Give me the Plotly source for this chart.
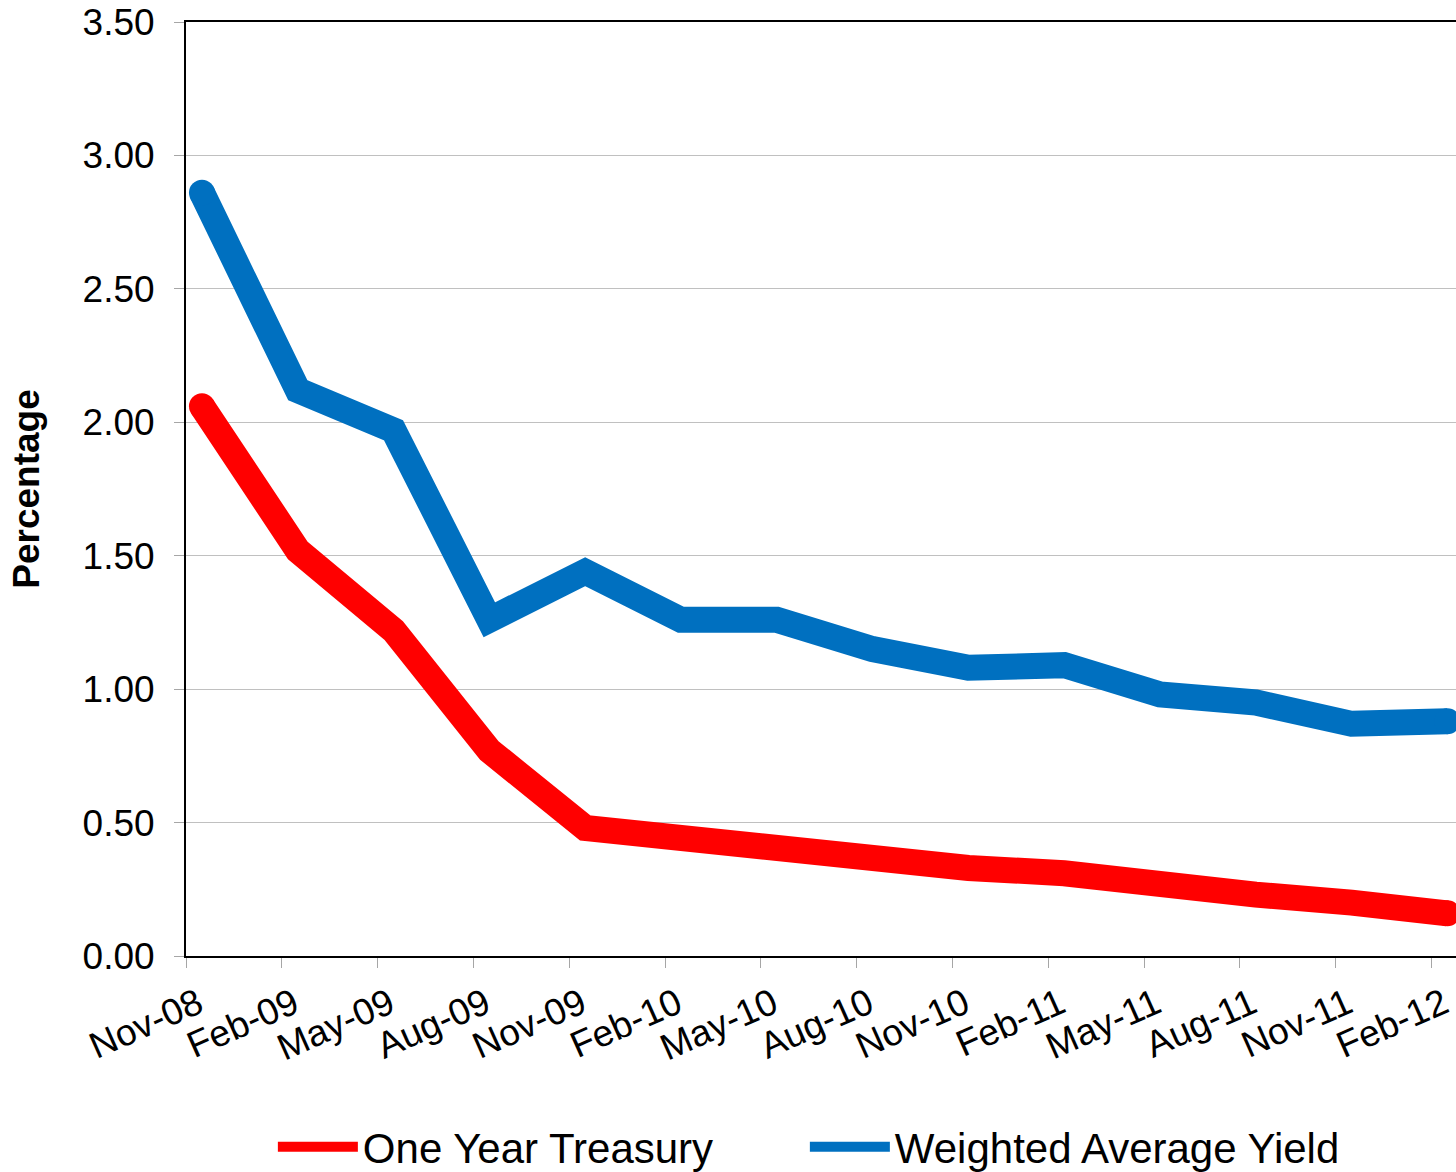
import plotly.graph_objects as go

# Quarterly observations (data sits mid-month on a monthly date axis)
months = ["Nov-08", "Feb-09", "May-09", "Aug-09", "Nov-09", "Feb-10", "May-10",
          "Aug-10", "Nov-10", "Feb-11", "May-11", "Aug-11", "Nov-11", "Feb-12"]
one_year_treasury = [2.06, 1.52, 1.22, 0.77, 0.48, 0.44, 0.40,
                     0.35, 0.33, 0.31, 0.26, 0.23, 0.20, 0.16]
weighted_avg_yield = [2.86, 2.12, 1.97, 1.26, 1.44, 1.26, 1.26,
                      1.15, 1.08, 1.09, 0.98, 0.95, 0.87, 0.88]
y_ticks = [0, 0.5, 1.0, 1.5, 2.0, 2.5, 3.0, 3.5]

# monthly axis: each label is 3 months apart, points centred in their month slot
tick_pos = [3 * i for i in range(len(months))]
x_pos = [3 * i + 0.5 for i in range(len(months))]

FONT = "Liberation Sans, Arial, sans-serif"
RED = "#FF0000"
BLUE = "#0070C0"
LW = 26

fig = go.Figure()
for name, vals, col in [("One Year Treasury", one_year_treasury, RED),
                        ("Weighted Average Yield", weighted_avg_yield, BLUE)]:
    fig.add_trace(go.Scatter(x=x_pos, y=vals, name=name, mode="lines",
                             line=dict(color=col, width=LW)))
    # round end caps
    fig.add_trace(go.Scatter(x=[x_pos[0], x_pos[-1]], y=[vals[0], vals[-1]],
                             mode="markers", showlegend=False, hoverinfo="skip",
                             marker=dict(color=col, size=LW, line=dict(width=0))))

fig.update_layout(
    width=1456, height=1172,
    margin=dict(l=186, r=0, t=22, b=216, autoexpand=False),
    paper_bgcolor="white", plot_bgcolor="white",
    font=dict(family=FONT, color="black"),
    showlegend=True,
    legend=dict(orientation="h", x=0.0684, xanchor="left", y=-0.2045, yanchor="middle",
                font=dict(size=42, family=FONT), itemwidth=80,
                traceorder="normal", entrywidth=437),
)
fig.update_xaxes(
    range=[0, 39.77], automargin=False,
    tickmode="array", tickvals=tick_pos, ticktext=months,
    tickangle=-24, tickfont=dict(size=37), ticklabelshift=12,
    ticks="outside", ticklen=10, tickcolor="#a6a6a6", tickwidth=1,
    showgrid=False, zeroline=False,
    showline=True, linecolor="black", linewidth=2, mirror=True,
)
fig.update_yaxes(
    range=[0, 3.5], automargin=False,
    tickmode="array", tickvals=y_ticks, tickformat=".2f",
    tickfont=dict(size=37),
    ticks="outside", ticklen=10, tickcolor="#a6a6a6", tickwidth=1,
    ticklabelstandoff=12,
    showgrid=True, gridcolor="#c0c0c0", gridwidth=1, zeroline=False,
    showline=True, linecolor="black", linewidth=2,
    title=dict(text="<b>Percentage</b>", font=dict(size=37), standoff=32),
)

fig.write_html("out.html", config={"displayModeBar": False},
               post_script="document.body.style.margin='0';")
